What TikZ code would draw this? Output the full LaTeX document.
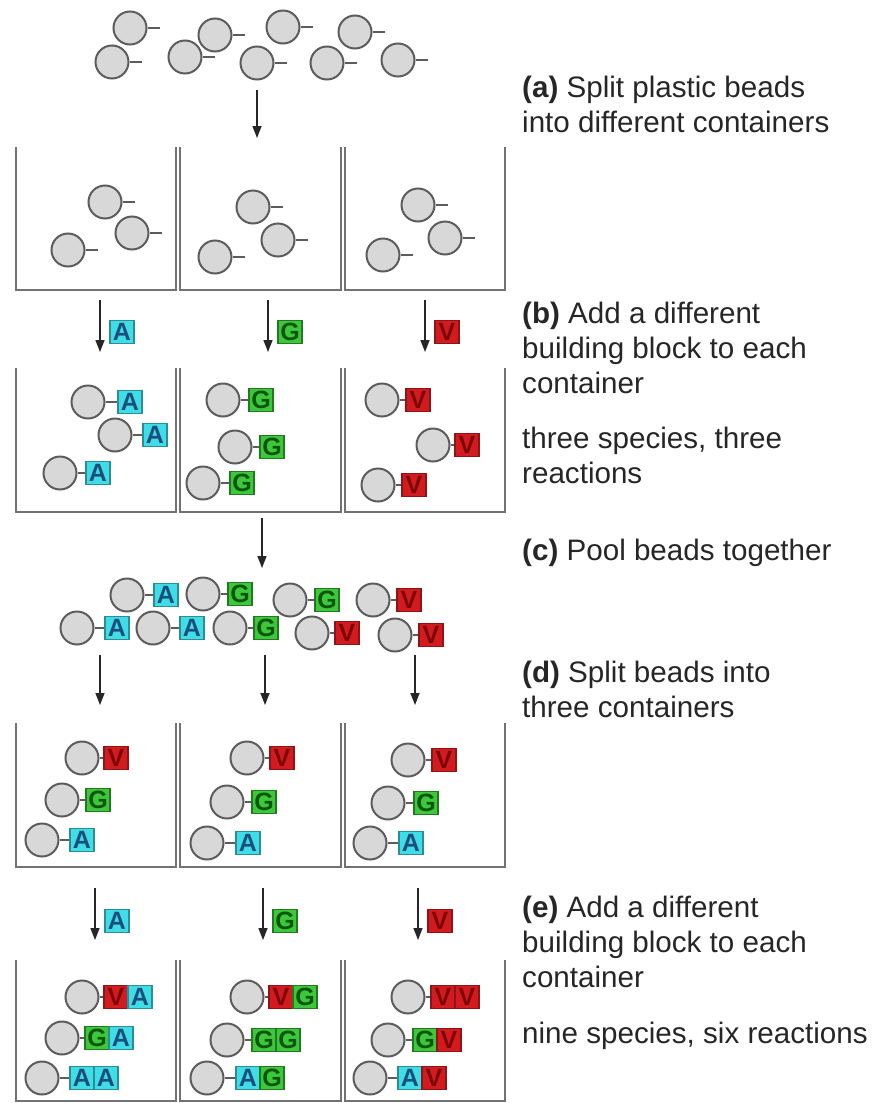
\documentclass[tikz,border=0pt]{standalone}
\usepackage{fontspec}
\setmainfont{Liberation Sans}
\usetikzlibrary{positioning,arrows.meta}
\definecolor{beadfill}{HTML}{D8D8D8}
\definecolor{beadline}{HTML}{5C5C5C}
\definecolor{wallgray}{HTML}{727272}
\definecolor{textgray}{HTML}{262626}
\definecolor{fillA}{HTML}{3FDDE6}
\definecolor{lineA}{HTML}{2C8C98}
\definecolor{textA}{HTML}{1C4E7E}
\definecolor{fillG}{HTML}{3DC73A}
\definecolor{lineG}{HTML}{217A20}
\definecolor{textG}{HTML}{0B560B}
\definecolor{fillV}{HTML}{D21B1E}
\definecolor{lineV}{HTML}{8E1416}
\definecolor{textV}{HTML}{7C0508}
\tikzset{
  >={Triangle[length=12pt,width=9pt]},
  bead/.style={circle, draw=beadline, fill=beadfill, line width=2pt,
    minimum size=33pt, inner sep=0pt},
  blk/.style={rectangle, draw=line#1, fill=fill#1, text=text#1,
    line width=1.2pt, minimum width=24pt, minimum height=23pt,
    inner sep=0pt, font=\fontsize{25}{25}\selectfont\bfseries},
  tail/.style={draw=beadline, line width=2pt},
  wall/.style={draw=wallgray, line width=2pt},
  flow/.style={->, line width=1.5pt, draw=black!85},
  lbl/.style={anchor=base west, align=left, inner sep=0pt, text=textgray,
    font=\fontsize{29.6}{35}\selectfont},
}
\begin{document}
\begin{tikzpicture}[x=1pt, y=-1pt]
  \useasboundingbox (0,0) rectangle (875,1103);
  % containers
  \foreach \top/\bot in {147/290, 368/512, 723/867, 960/1101}
    \foreach \l/\r in {16/176, 180/341, 345/505}
      \draw[wall] (\l,\top) -- (\l,\bot) -- (\r,\bot) -- (\r,\top);
  % loose beads
  \foreach \x/\y [count=\i] in {130/28, 112/62, 185/57, 215/35, 283/27,
      257/63, 355/32, 327/63, 398/60} {
    \node[bead] (lb\i) at (\x,\y) {};
    \draw[tail] (lb\i.east) -- ++(12,0);
  }
  \coordinate (s0) at (257,90);
  \coordinate (e0) at (257,138);
  \draw[flow] (s0) -- (e0);
  % split into containers
  \foreach \x/\y [count=\i] in {105/202, 132/233, 68/250, 253/207, 278/240,
      215/257, 418/205, 445/238, 383/255} {
    \node[bead] (fb\i) at (\x,\y) {};
    \draw[tail] (fb\i.east) -- ++(12,0);
  }
  % first building block
  \foreach \x/\k [count=\i] in {100/A, 268/G, 425/V} {
    \coordinate (bs\i) at (\x,300);
    \coordinate (be\i) at (\x,352);
    \draw[flow] (bs\i) -- (be\i);
    \node[blk=\k] (bk\i) at (\x+22,332) {\k};
  }
  \foreach \x/\y/\bx/\k [count=\i] in {88/402/130/A, 115/435/155/A,
      60/473/98/A, 223/400/261/G, 235/447/272/G, 203/483/242/G,
      382/400/418/V, 433/445/467/V, 378/485/414/V} {
    \node[bead] (sb\i) at (\x,\y) {};
    \node[blk=\k] (sk\i) at (\bx,\y) {\k};
    \draw[tail] (sb\i) -- (sk\i);
  }
  % pool
  \coordinate (s1) at (262,518);
  \coordinate (e1) at (262,568);
  \draw[flow] (s1) -- (e1);
  \foreach \x/\y/\bx/\k [count=\i] in {127/595/166/A, 203/594/240/G,
      290/600/327/G, 373/600/409/V, 77/628/117/A, 153/628/192/A,
      230/628/266/G, 312/633/347/V, 395/635/431/V} {
    \node[bead] (pb\i) at (\x,\y) {};
    \node[blk=\k] (pk\i) at (\bx,\y) {\k};
    \draw[tail] (pb\i) -- (pk\i);
  }
  % split again
  \foreach \x [count=\i] in {100, 265, 415} {
    \coordinate (ds\i) at (\x,655);
    \coordinate (de\i) at (\x,705);
    \draw[flow] (ds\i) -- (de\i);
  }
  \foreach \x/\y/\bx/\k [count=\i] in {82/758/116/V, 62/800/98/G,
      42/840/82/A, 247/758/282/V, 227/802/264/G, 207/843/248/A,
      408/760/444/V, 388/803/426/G, 370/843/411/A} {
    \node[bead] (db\i) at (\x,\y) {};
    \node[blk=\k] (dk\i) at (\bx,\y) {\k};
    \draw[tail] (db\i) -- (dk\i);
  }
  % second building block
  \foreach \x/\k [count=\i] in {95/A, 263/G, 418/V} {
    \coordinate (es\i) at (\x,888);
    \coordinate (ee\i) at (\x,940);
    \draw[flow] (es\i) -- (ee\i);
    \node[blk=\k] (ck\i) at (\x+22,921) {\k};
  }
  \foreach \x/\y/\bx/\k/\m [count=\i] in {82/997/116/V/A, 62/1038/97/G/A,
      42/1078/82/A/A, 247/997/281/V/G, 227/1040/264/G/G,
      207/1078/248/A/G, 408/997/443/V/V, 388/1040/425/G/V,
      370/1078/410/A/V} {
    \node[bead] (eb\i) at (\x,\y) {};
    \node[blk=\k] (ek\i) at (\bx,\y) {\k};
    \node[blk=\m, right=-1.2pt of ek\i] (em\i) {\m};
    \draw[tail] (eb\i) -- (ek\i);
  }
  % step texts (base = last line)
  \node[lbl] (ta) at (522,132) {\textbf{(a)} Split plastic beads\\into different containers};
  \node[lbl] (tb) at (522,393) {\textbf{(b)} Add a different\\building block to each\\container};
  \node[lbl] (tb2) at (522,483) {three species, three\\reactions};
  \node[lbl] (tc) at (522,560) {\textbf{(c)} Pool beads together};
  \node[lbl] (td) at (522,717) {\textbf{(d)} Split beads into\\three containers};
  \node[lbl] (te) at (522,987) {\textbf{(e)} Add a different\\building block to each\\container};
  \node[lbl] (te2) at (522,1043) {nine species, six reactions};
\end{tikzpicture}
\end{document}
